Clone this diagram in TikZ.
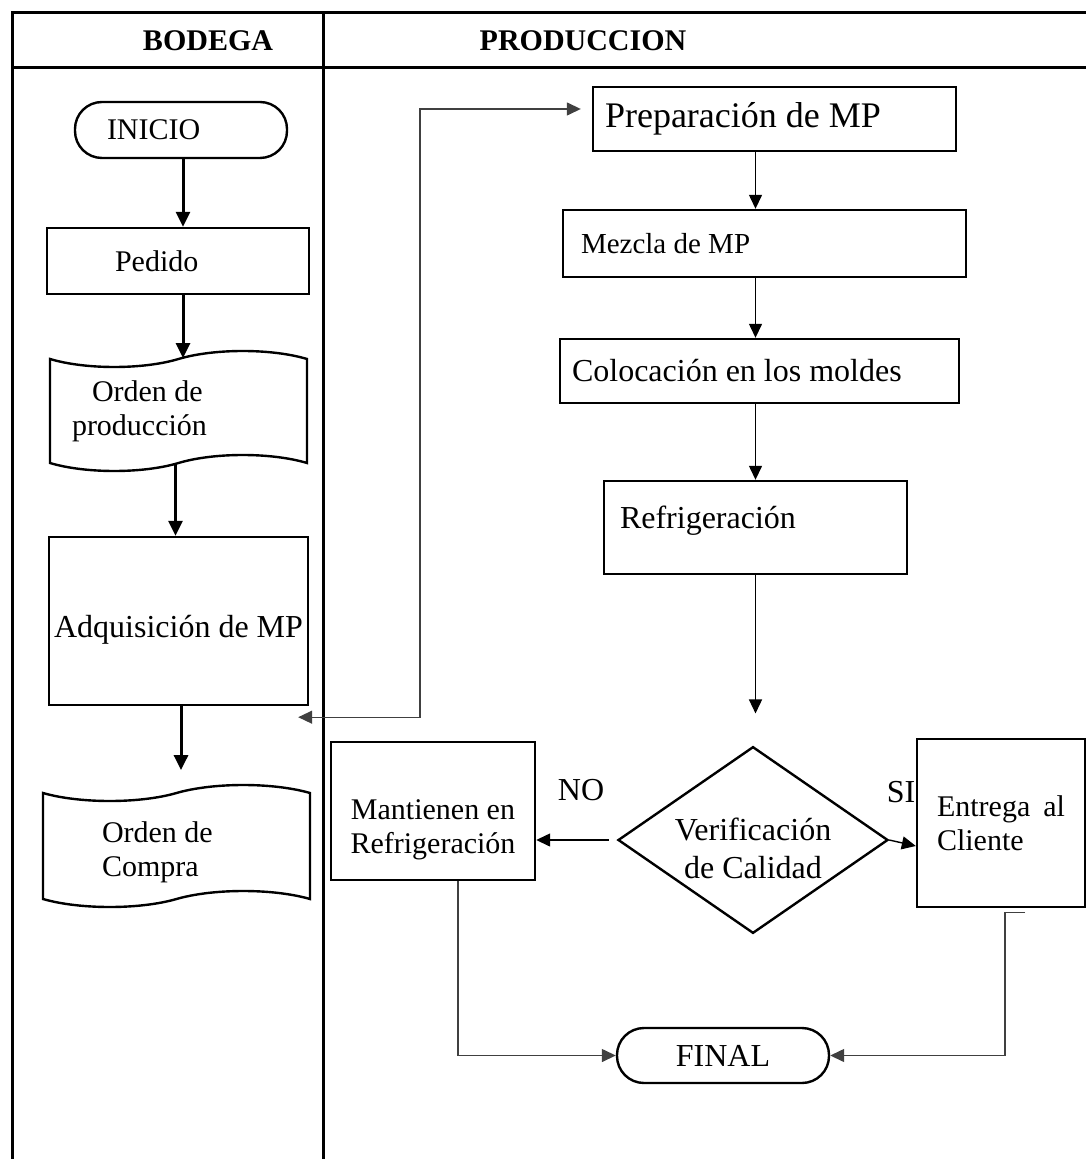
\documentclass[tikz,border=0pt]{standalone}
\usepackage{fontspec}
\setmainfont{Liberation Serif}
\usetikzlibrary{arrows.meta,positioning,shapes.geometric,shapes.symbols}

\begin{document}
\begin{tikzpicture}[x=0.5pt, y=-0.5pt,
    every node/.style={font=\fontsize{15}{17}\selectfont},
    caja/.style={draw, line width=1.2pt, inner ysep=0pt},
    terminal/.style={draw, line width=1.2pt, rounded corners=13.5pt, inner ysep=0pt},
    documento/.style={draw, line width=1.2pt, tape, tape bend height=8pt, inner ysep=0pt},
    gruesa/.style={line width=1.5pt, -{Triangle[length=7.5pt,width=7pt]}},
    fina/.style={line width=0.7pt, -{Triangle[length=7pt,width=6.5pt]}},
    enlace/.style={line width=0.7pt, black!75, -{Triangle[length=7pt,width=6.5pt]}}]

    \useasboundingbox (0,0) rectangle (1086,1159);
    % tabla
    \draw[line width=1.5pt] (12,1159) -- (12,13) -- (1086,13);
    \draw[line width=1.5pt] (12,68) -- (1086,68);
    \draw[line width=1.5pt] (323,13) -- (323,1159);
    \node (bodega) at (208,41) [font=\fontsize{15}{17}\selectfont\bfseries] {BODEGA};
    \node (produccion) at (583,41) [font=\fontsize{15}{17}\selectfont\bfseries] {PRODUCCION};

    % bodega
    \node (inicio) at (181,130) [terminal, minimum height=28pt, text width=74pt, inner xsep=16pt, align=flush left] {INICIO};
    \node (pedido) at (178,261) [caja, minimum height=33pt, text width=63pt, inner xsep=34pt, align=flush left] {Pedido};
    \node (ordprod) at (178.5,411) [documento, minimum height=60pt, text width=106.5pt, inner xsep=11pt, align=flush left] {\hspace*{10pt}Orden de\\producción};
    \node (adq) at (178.5,621) [caja, minimum width=129.5pt, minimum height=84pt, inner xsep=0pt, text height=20pt, text depth=3.5pt, font=\fontsize{16}{18}\selectfont] {Adquisición de MP};
    \node (ordcompra) at (176.5,846) [documento, minimum height=61pt, text width=74.5pt, inner xsep=29.5pt, align=flush left] {\rule{0pt}{17pt}Orden de\\Compra};

    \draw[gruesa] ([xshift=1pt]inicio.south) -- ([xshift=1pt]inicio.south |- pedido.north);
    \draw[gruesa] ([xshift=2.5pt]pedido.south) -- ([xshift=2.5pt]pedido.south |- ordprod.north);
    \draw[gruesa] ([xshift=-1.5pt]ordprod.south) -- ([xshift=-1.5pt]ordprod.south |- adq.north);
    \draw[gruesa, shorten >=11pt] ([xshift=1.25pt]adq.south) -- ([xshift=1.25pt]adq.south |- ordcompra.north);

    % produccion
    \node (prep) at (774.5,119) [caja, minimum height=32pt, text width=169.5pt, inner xsep=6pt, align=flush left, font=\fontsize{18}{20}\selectfont] {Preparación de MP};
    \node (mezcla) at (764.5,243.5) [caja, minimum height=33.5pt, text width=183.5pt, inner xsep=9pt, align=flush left, font=\fontsize{14.5}{17}\selectfont] {Mezcla de MP};
    \node (coloc) at (759.5,371) [caja, minimum height=32pt, text width=187.5pt, inner xsep=6pt, align=flush left, font=\fontsize{16}{18}\selectfont] {Colocación en los moldes};
    \node (refri) at (755.5,527.5) [caja, minimum height=46.5pt, text width=135.5pt, inner xsep=8pt, align=flush left, text depth=10pt, font=\fontsize{16}{18}\selectfont] {Refrigeración};
    \node (verif) at (753,840) [draw, diamond, line width=1.2pt, minimum width=135pt, minimum height=92pt, inner xsep=0pt, inner ysep=-12pt, align=flush center, font=\fontsize{16}{19}\selectfont] {\rule{0pt}{20pt}Verificación\\de Calidad};
    \node (mant) at (433,811) [caja, minimum width=102pt, minimum height=69pt, inner xsep=0pt, align=flush center] {\rule{0pt}{29pt}Mantienen en\\Refrigeración};
    \node (entrega) at (1001,823) [caja, minimum height=84pt, text width=64pt, inner xsep=10pt, align=justify] {Entrega al Cliente};
    \node (final) at (723,1055.5) [terminal, minimum width=106pt, minimum height=27.5pt, font=\fontsize{16}{18}\selectfont] {FINAL};
    \node (no) at (581,790) [font=\fontsize{16}{18}\selectfont] {NO};
    \node (si) at (901,792) [font=\fontsize{16}{18}\selectfont] {SI};

    \draw[fina] (prep.south -| refri) -- (mezcla.north -| refri);
    \draw[fina] (mezcla.south -| refri) -- (coloc.north -| refri);
    \draw[fina] (coloc.south -| refri) -- (refri.north);
    \draw[fina, shorten >=16pt] (refri.south) -- (refri.south |- verif.north);
    \draw[fina, shorten <=4pt] (verif.west) -- (verif.west -| mant.east);
    \draw[fina] (verif.east) -- ([yshift=-11.5pt]entrega.west);
    \draw[enlace] ([xshift=12.5pt]mant.south) |- (final);
    \draw[enlace] ([xshift=12pt,yshift=-2pt]entrega.south) -- ([xshift=2pt,yshift=-2pt]entrega.south) |- (final);

    % enlace bodega - produccion
    \coordinate (codo) at (420,109);
    \draw[enlace, {Triangle[length=7pt,width=6.5pt]}-{Triangle[length=7pt,width=6.5pt]}] ([xshift=-5.5pt,yshift=-5.5pt]adq.south east) -| (codo) -- ([xshift=-5.5pt]prep.west |- codo);
\end{tikzpicture}
\end{document}
